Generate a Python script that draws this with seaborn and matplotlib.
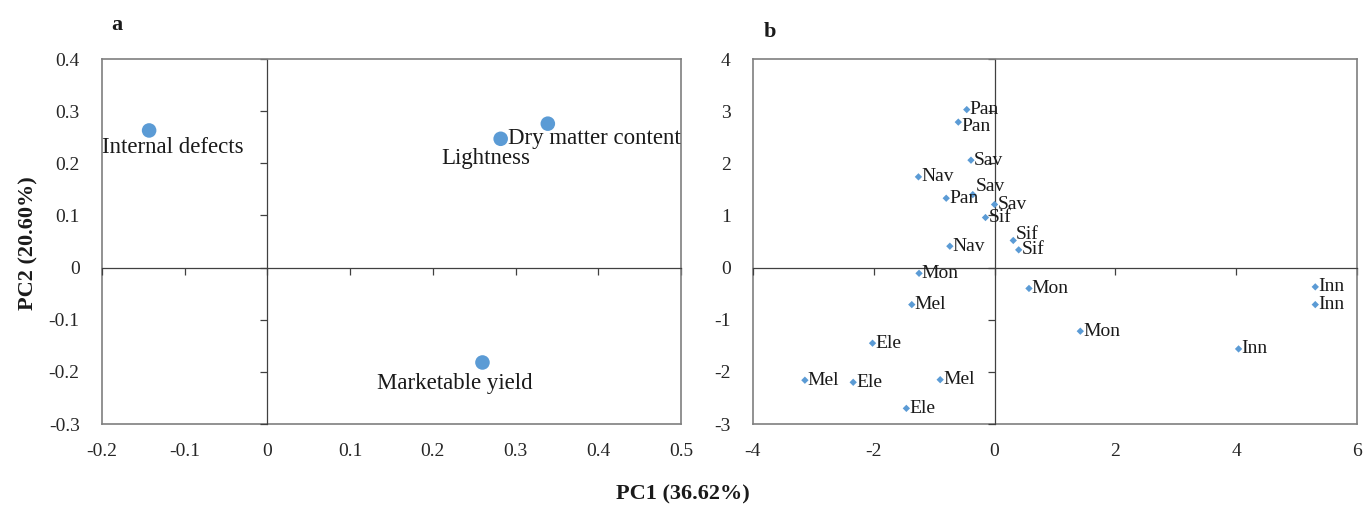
import numpy as np
import pandas as pd
import matplotlib
matplotlib.use("Agg")
import matplotlib.pyplot as plt
import seaborn as sns

# panel a: loadings
traits = ["Internal defects", "Dry matter content", "Lightness", "Marketable yield"]
load_pc1 = [-0.143, 0.282, 0.339, 0.260]
load_pc2 = [0.263, 0.247, 0.276, -0.182]

# panel b: scores
cultivars = ["Pan", "Pan", "Sav", "Nav", "Sav", "Pan", "Sav", "Sif", "Sif", "Sif", "Nav", "Mon",
             "Mon", "Mel", "Inn", "Inn", "Mon", "Ele", "Inn", "Mel", "Ele", "Mel", "Ele"]
score_pc1 = [-0.46, -0.60, -0.39, -1.26, -0.36, -0.80, 0.00, -0.15, 0.31, 0.40, -0.74, -1.25,
             0.57, -1.37, 5.31, 5.31, 1.42, -2.02, 4.04, -3.14, -2.34, -0.90, -1.46]
score_pc2 = [3.03, 2.79, 2.06, 1.74, 1.40, 1.33, 1.21, 0.96, 0.52, 0.34, 0.41, -0.11,
             -0.40, -0.71, -0.37, -0.71, -1.22, -1.45, -1.56, -2.16, -2.20, -2.15, -2.70]

xticks_a = [-0.2, -0.1, 0, 0.1, 0.2, 0.3, 0.4, 0.5]
xlabels_a = ["-0.2", "-0.1", "0", "0.1", "0.2", "0.3", "0.4", "0.5"]
yticks_a = [-0.3, -0.2, -0.1, 0, 0.1, 0.2, 0.3, 0.4]
ylabels_a = ["-0.3", "-0.2", "-0.1", "0", "0.1", "0.2", "0.3", "0.4"]
xticks_b = [-4, -2, 0, 2, 4, 6]
yticks_b = [-3, -2, -1, 0, 1, 2, 3, 4]

sns.set_style("white")
plt.rcParams["font.family"] = ["Liberation Serif", "DejaVu Serif"]
plt.rcParams["text.color"] = "#1a1a1a"

blue = "#5B9BD5"
frame = "#7f7f7f"
zero = "#404040"


def excel_axes(ax, xt, xl, yt, yl):
    ax.set_xlim(xt[0], xt[-1])
    ax.set_ylim(yt[0], yt[-1])
    for s in ["top", "right"]:
        ax.spines[s].set_color(frame)
        ax.spines[s].set_linewidth(1.2)
    # axis lines cross at zero with small outward ticks
    ax.spines["left"].set_position(("data", 0))
    ax.spines["bottom"].set_position(("data", 0))
    ax.spines["left"].set_color(zero)
    ax.spines["bottom"].set_color(zero)
    ax.spines["left"].set_linewidth(0.9)
    ax.spines["bottom"].set_linewidth(0.9)
    ax.set_xticks(xt)
    ax.set_yticks(yt)
    ax.tick_params(direction="out", length=5, width=0.9, color=zero,
                   bottom=True, left=True, labelbottom=False, labelleft=False)
    ax.set_xlabel("")
    ax.set_ylabel("")
    # tick labels at the frame edges
    sx = ax.secondary_xaxis("bottom")
    sx.set_xticks(xt, labels=xl)
    sx.tick_params(length=0, pad=14, labelsize=14)
    sx.spines["bottom"].set_color(frame)
    sx.spines["bottom"].set_linewidth(1.2)
    sy = ax.secondary_yaxis("left")
    sy.set_yticks(yt, labels=yl)
    sy.tick_params(length=0, pad=16, labelsize=14)
    sy.spines["left"].set_color(frame)
    sy.spines["left"].set_linewidth(1.2)


fig = plt.figure(figsize=(13.65, 5.07), dpi=100)
ax_a = fig.add_axes([0.0747, 0.1637, 0.4242, 0.7199])
ax_b = fig.add_axes([0.5516, 0.1637, 0.4425, 0.7199])

df_a = pd.DataFrame({"pc1": load_pc1, "pc2": load_pc2, "trait": traits})
sns.scatterplot(data=df_a, x="pc1", y="pc2", ax=ax_a, color=blue, s=110,
                edgecolor="none", zorder=3, legend=False)
excel_axes(ax_a, xticks_a, xlabels_a, yticks_a, ylabels_a)

# label placement (offset points, alignment)
offs_a = {"Internal defects": ((17, -12), "center"),
          "Dry matter content": ((5, 0), "left"),
          "Lightness": ((-45, -25), "center"),
          "Marketable yield": ((-20, -15), "center")}
for _, r in df_a.iterrows():
    off, ha = offs_a[r["trait"]]
    ax_a.annotate(r["trait"], (r["pc1"], r["pc2"]), xytext=off, textcoords="offset points",
                  ha=ha, va="center", fontsize=16.5)

df_b = pd.DataFrame({"pc1": score_pc1, "pc2": score_pc2, "cv": cultivars})
sns.scatterplot(data=df_b, x="pc1", y="pc2", ax=ax_b, color=blue, s=14, marker="D",
                edgecolor="none", zorder=3, legend=False)
excel_axes(ax_b, xticks_b, [str(v) for v in xticks_b], yticks_b, [str(v) for v in yticks_b])

nudge_b = {4: 6, 8: 4, 1: -3}
for i, r in df_b.iterrows():
    ax_b.annotate(r["cv"], (r["pc1"], r["pc2"]), xytext=(2, nudge_b.get(i, 0)),
                  textcoords="offset points", ha="left", va="center", fontsize=14)

fig.text(0.0857, 0.95, "a", fontsize=16, fontweight="bold", ha="center", va="center")
fig.text(0.564, 0.937, "b", fontsize=16, fontweight="bold", ha="center", va="center")
fig.text(0.5, 0.024, "PC1 (36.62%)", fontsize=16, fontweight="bold", ha="center", va="center")
fig.text(0.021, 0.52, "PC2 (20.60%)", fontsize=16, fontweight="bold", ha="center", va="center",
         rotation=90)

fig.savefig("out.png", dpi=100)
